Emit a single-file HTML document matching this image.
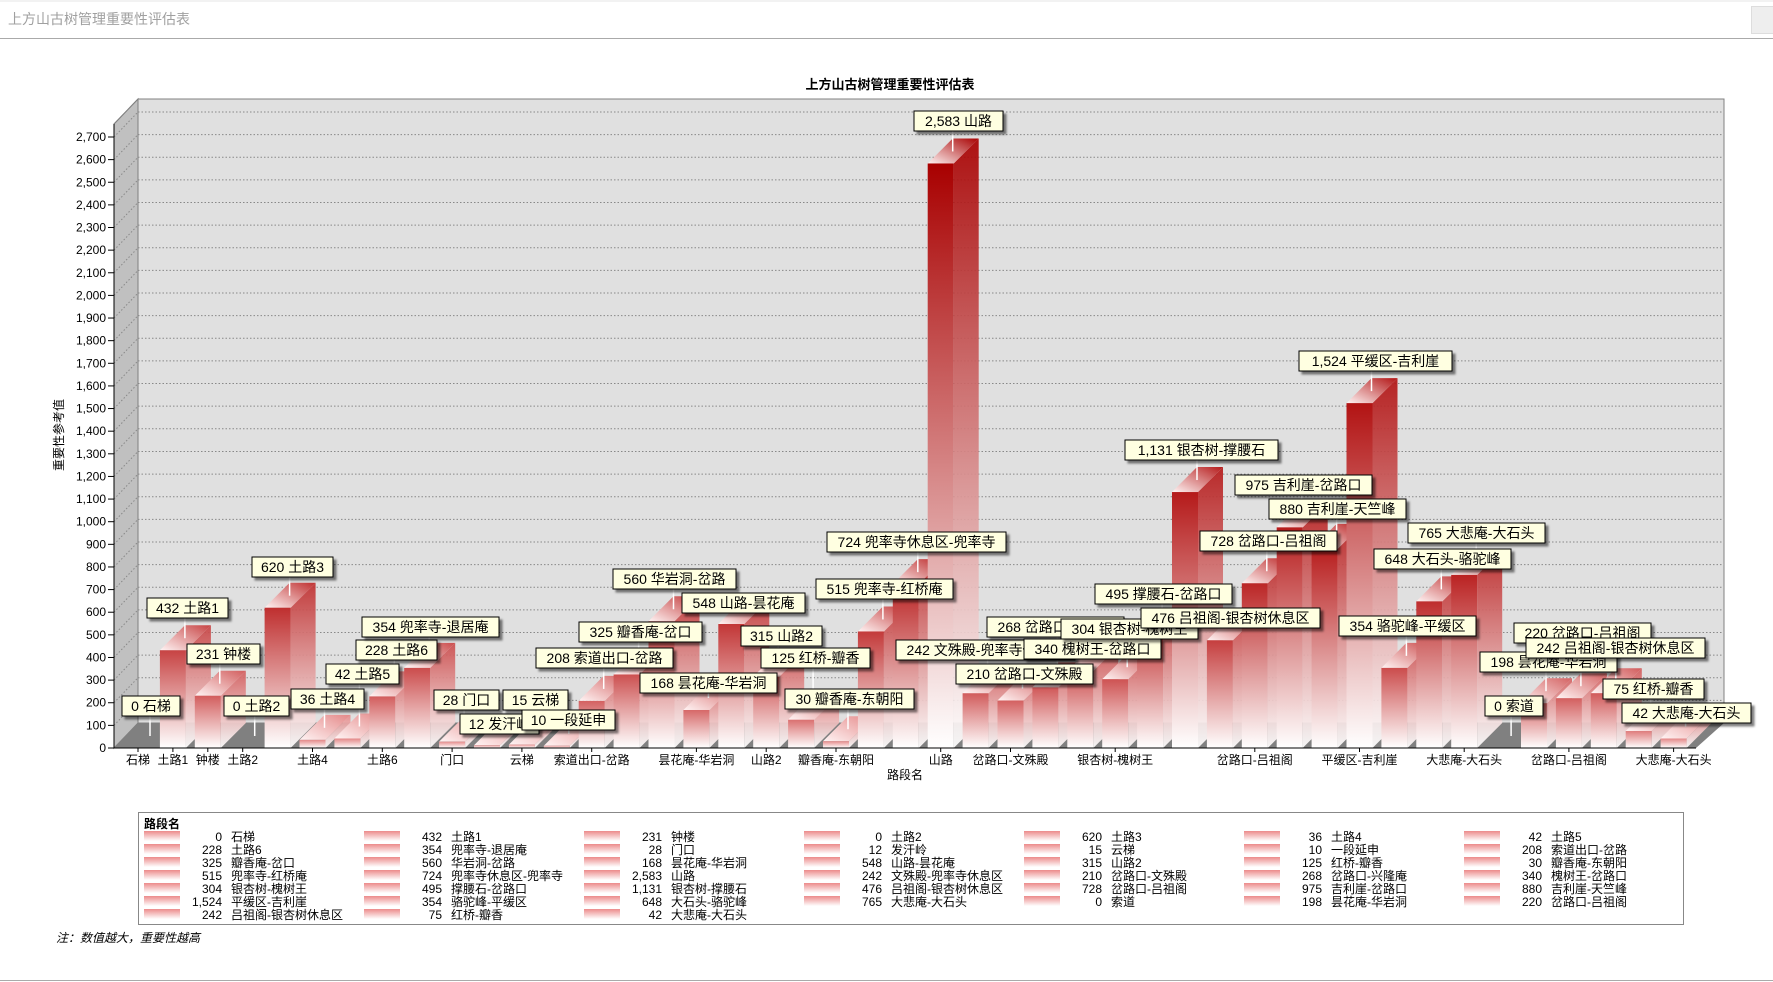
<!DOCTYPE html>
<html><head><meta charset="utf-8">
<style>
html,body{margin:0;padding:0;background:#fff;}
body{width:1773px;height:982px;position:relative;overflow:hidden;font-family:"Liberation Sans","Noto Sans CJK SC",sans-serif;}
svg{position:absolute;left:0;top:0;}
</style></head>
<body>
<svg id="s" width="1773" height="982" xmlns="http://www.w3.org/2000/svg" font-family="Liberation Sans, Noto Sans CJK SC, sans-serif">
<line x1="0" y1="1" x2="1773" y2="1" stroke="#e6e6e6"/>
<text x="8" y="24" font-size="14" fill="#a0a0a0">上方山古树管理重要性评估表</text>
<line x1="0" y1="38.5" x2="1773" y2="38.5" stroke="#aaa"/>
<rect x="1751.5" y="6.5" width="22" height="27" fill="#eee" stroke="#ddd"/>
<line x1="0" y1="980.5" x2="1773" y2="980.5" stroke="#aaa"/>
<text x="890" y="89" font-size="13" font-weight="bold" text-anchor="middle">上方山古树管理重要性评估表</text>
<text transform="translate(63,435) rotate(-90)" font-size="12" text-anchor="middle">重要性参考值</text>
<text x="905" y="779" font-size="12" text-anchor="middle">路段名</text>
<text x="56" y="942" font-size="12" font-style="italic">注：数值越大，重要性越高</text>
<g id="g"></g>
</svg>
<script>
const data=[[0,"石梯"],[432,"土路1"],[231,"钟楼"],[0,"土路2"],[620,"土路3"],[36,"土路4"],[42,"土路5"],
[228,"土路6"],[354,"兜率寺-退居庵"],[28,"门口"],[12,"发汗岭"],[15,"云梯"],[10,"一段延申"],[208,"索道出口-岔路"],
[325,"瓣香庵-岔口"],[560,"华岩洞-岔路"],[168,"昙花庵-华岩洞"],[548,"山路-昙花庵"],[315,"山路2"],[125,"红桥-瓣香"],[30,"瓣香庵-东朝阳"],
[515,"兜率寺-红桥庵"],[724,"兜率寺休息区-兜率寺"],[2583,"山路"],[242,"文殊殿-兜率寺休息区"],[210,"岔路口-文殊殿"],[268,"岔路口-兴隆庵"],[340,"槐树王-岔路口"],
[304,"银杏树-槐树王"],[495,"撑腰石-岔路口"],[1131,"银杏树-撑腰石"],[476,"吕祖阁-银杏树休息区"],[728,"岔路口-吕祖阁"],[975,"吉利崖-岔路口"],[880,"吉利崖-天竺峰"],
[1524,"平缓区-吉利崖"],[354,"骆驼峰-平缓区"],[648,"大石头-骆驼峰"],[765,"大悲庵-大石头"],[0,"索道"],[198,"昙花庵-华岩洞"],[220,"岔路口-吕祖阁"],
[242,"吕祖阁-银杏树休息区"],[75,"红桥-瓣香"],[42,"大悲庵-大石头"]];
const labels=[[122,706],[147,608],[187,654],[224,706],[252,567],[291,699],[326,674],[356,650],[362,627],[434,700],[460,724],[503,700],[522,720],[536,658],
[579,632],[613,579],[640,683],[682,603],[741,636],[761,658],[785,699],[816,589],[827,542],[914,121],[896,650],[956,674],[987,627],[1024,649],
[1061,629],[1095,594],[1125,450],[1141,618],[1200,541],[1235,485],[1269,509],[1299,361],[1339,626],[1374,559],[1408,533],[1485,706],[1480,662],[1514,633],
[1526,648],[1603,689],[1622,713]];
const Y0=748,K=0.2263,D=25,AX=114;
const cx=i=>138+34.9*i, yv=v=>Y0-v*K;
let h='';
// walls
h+=`<polygon points="${AX},${Y0-D+25} ${AX+24},99 ${AX+24},${Y0-D} ${AX},${Y0}" fill="#c0c0c0" stroke="#808080"/>`;
h+=`<polygon points="${AX},124 ${AX+24},99 ${AX+24},${Y0-D} ${AX},${Y0}" fill="#c0c0c0" stroke="#808080"/>`;
h+=`<rect x="${AX+24}" y="99" width="${1724-AX-24}" height="${Y0-D-99}" fill="#e0e0e0" stroke="#808080"/>`;
for(let v=100;v<=2700;v+=100){const y=yv(v);
 h+=`<line x1="${AX+24}" y1="${y-D}" x2="1724" y2="${y-D}" stroke="#888" stroke-dasharray="1.5,2"/>`;
 h+=`<line x1="${AX}" y1="${y}" x2="${AX+24}" y2="${y-D}" stroke="#888" stroke-dasharray="1.5,2"/>`;}
h+=`<line x1="${AX}" y1="124" x2="${AX+24}" y2="99" stroke="#808080"/>`;
// floor
h+=`<polygon points="${AX},${Y0} ${AX+24},${Y0-D} 1724,${Y0-D} 1696,${Y0}" fill="#808080"/>`;
// defs
let defs='<defs>';
function col(v){const t=Math.min(1,Math.sqrt(v/800));let r=240-(240-185)*t,g=165-(165-32)*t,b=165-(165-32)*t;
 if(v>800){const u=Math.min(1,(v-800)/1800);r=185-(185-168)*u;g=32-32*u;b=32-32*u;}
 return `rgb(${r|0},${g|0},${b|0})`;}
let bars='';
data.forEach((d,i)=>{const v=d[0];if(v<=0){return;}const c=col(v);const x=cx(i)-13,y=yv(v),w=26;
 defs+=`<linearGradient id="f${i}" x1="0" y1="0" x2="0" y2="1"><stop offset="0" stop-color="${c}"/><stop offset="1" stop-color="#fff"/></linearGradient>`;
 defs+=`<linearGradient id="t${i}" x1="0" y1="1" x2="1" y2="0"><stop offset="0" stop-color="#fff4f4"/><stop offset="1" stop-color="${c}"/></linearGradient>`;
 bars+=`<polygon points="${x+w},${y} ${x+w+D},${y-D} ${x+w+D},${Y0-D} ${x+w},${Y0}" fill="url(#f${i})" opacity="0.92"/>`;
 bars+=`<polygon points="${x},${y} ${x+D},${y-D} ${x+w+D},${y-D} ${x+w},${y}" fill="url(#t${i})"/>`;
 bars+=`<rect x="${x}" y="${y}" width="${w}" height="${Y0-y}" fill="url(#f${i})"/>`;
});
defs+=`<linearGradient id="lg" x1="0" y1="0" x2="0" y2="1"><stop offset="0" stop-color="#ec8a8a"/><stop offset="1" stop-color="#fff"/></linearGradient>`;
defs+=`<filter id="sh" x="-10%" y="-10%" width="130%" height="150%"><feDropShadow dx="3" dy="3" stdDeviation="1" flood-color="#000" flood-opacity="0.5"/></filter>`;
defs+='</defs>';
h=defs+h+bars;
// axes
h+=`<line x1="${AX}" y1="124" x2="${AX}" y2="${Y0}" stroke="#000"/>`;
h+=`<line x1="${AX}" y1="${Y0}" x2="1696" y2="${Y0}" stroke="#000"/>`;
for(let v=0;v<=2700;v+=100){const y=yv(v);
 h+=`<line x1="${AX-6}" y1="${y}" x2="${AX}" y2="${y}" stroke="#000"/>`;
 h+=`<text x="${AX-8}" y="${y+4}" font-size="12" text-anchor="end">${v.toLocaleString('en-US')}</text>`;}
[0,1,2,3,5,7,9,11,13,16,18,20,23,25,28,32,35,38,41,44].forEach(i=>{
 h+=`<line x1="${cx(i)}" y1="${Y0}" x2="${cx(i)}" y2="${Y0+4}" stroke="#000"/>`;
 h+=`<text x="${cx(i)}" y="${Y0+16}" font-size="12" text-anchor="middle">${data[i][1]}</text>`;});
// labels
data.forEach((d,i)=>{const [L,cy]=labels[i];const v=d[0];const px=cx(i)+12,py=yv(v)-12;
 if(cy+10<py) h+=`<line x1="${px}" y1="${cy+10}" x2="${px}" y2="${py}" stroke="#fff" stroke-width="1.5"/>`;});
data.forEach((d,i)=>{const [L,cy]=labels[i];const t=d[0].toLocaleString('en-US')+' '+d[1];
 const w=Math.round(t.replace(/[^\x00-\x7f]/g,'').length*7.8+t.replace(/[\x00-\x7f]/g,'').length*14+14);
 h+=`<rect x="${L}" y="${cy-10}" width="${w}" height="20" fill="#ffffe1" stroke="#000" filter="url(#sh)"/>`;
 h+=`<text x="${L+w/2}" y="${cy+5}" font-size="14" text-anchor="middle">${t}</text>`;});
// legend
h+=`<rect x="138.5" y="812.5" width="1545" height="112" fill="#fff" stroke="#888"/>`;
h+=`<text x="144" y="828" font-size="12" font-weight="bold">路段名</text>`;
data.forEach((d,i)=>{const r=Math.floor(i/7),c=i%7;const y=836+13*r,x=144+220*c;
 h+=`<rect x="${x}" y="${y-5}" width="36" height="10" fill="url(#lg)"/>`;
 h+=`<text x="${x+78}" y="${y+5}" font-size="12" text-anchor="end">${d[0].toLocaleString('en-US')}</text>`;
 h+=`<text x="${x+87}" y="${y+5}" font-size="12">${d[1]}</text>`;});
document.getElementById('g').innerHTML=h;
</script>
</body></html>
